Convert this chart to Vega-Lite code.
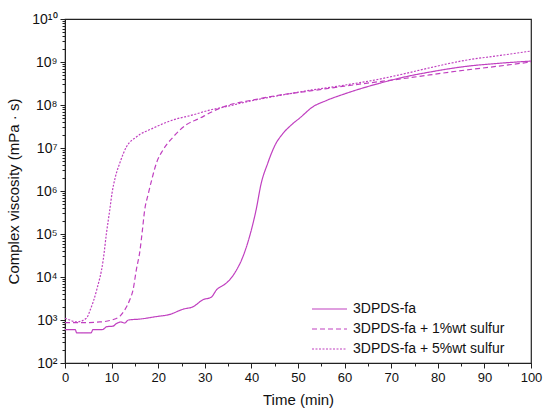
{
  "$schema": "https://vega.github.io/schema/vega-lite/v6.json",
  "width": 466,
  "height": 344,
  "autosize": "none",
  "padding": {"left": 65, "top": 19, "right": 19, "bottom": 56},
  "background": "white",
  "config": {
    "font": "Liberation Sans",
    "view": {"stroke": "#222", "strokeWidth": 1.2},
    "axis": {"grid": false, "domainColor": "#222", "tickColor": "#222", "labelColor": "#111", "titleColor": "#111", "labelFont": "Liberation Sans", "titleFont": "Liberation Sans", "titleFontWeight": "normal"}
  },
  "data": {
    "values": [
      {"t": 0, "v": 600, "s": "3DPDS-fa"},
      {"t": 2.2, "v": 600, "s": "3DPDS-fa"},
      {"t": 2.5, "v": 500, "s": "3DPDS-fa"},
      {"t": 5.6, "v": 500, "s": "3DPDS-fa"},
      {"t": 6, "v": 600, "s": "3DPDS-fa"},
      {"t": 8, "v": 600, "s": "3DPDS-fa"},
      {"t": 9, "v": 700, "s": "3DPDS-fa"},
      {"t": 10.3, "v": 720, "s": "3DPDS-fa"},
      {"t": 11, "v": 820, "s": "3DPDS-fa"},
      {"t": 12, "v": 900, "s": "3DPDS-fa"},
      {"t": 12.8, "v": 850, "s": "3DPDS-fa"},
      {"t": 13.6, "v": 1000, "s": "3DPDS-fa"},
      {"t": 16, "v": 1050, "s": "3DPDS-fa"},
      {"t": 19.6, "v": 1200, "s": "3DPDS-fa"},
      {"t": 22.5, "v": 1350, "s": "3DPDS-fa"},
      {"t": 25.3, "v": 1780, "s": "3DPDS-fa"},
      {"t": 27.5, "v": 2040, "s": "3DPDS-fa"},
      {"t": 29.6, "v": 2960, "s": "3DPDS-fa"},
      {"t": 31.4, "v": 3400, "s": "3DPDS-fa"},
      {"t": 32.5, "v": 5000, "s": "3DPDS-fa"},
      {"t": 34.3, "v": 6800, "s": "3DPDS-fa"},
      {"t": 35.5, "v": 9000, "s": "3DPDS-fa"},
      {"t": 36.8, "v": 14500, "s": "3DPDS-fa"},
      {"t": 38.2, "v": 30000, "s": "3DPDS-fa"},
      {"t": 39.6, "v": 87000, "s": "3DPDS-fa"},
      {"t": 41, "v": 360000, "s": "3DPDS-fa"},
      {"t": 42.1, "v": 1500000, "s": "3DPDS-fa"},
      {"t": 43.5, "v": 4400000, "s": "3DPDS-fa"},
      {"t": 44.4, "v": 8000000, "s": "3DPDS-fa"},
      {"t": 45.3, "v": 13000000, "s": "3DPDS-fa"},
      {"t": 46.5, "v": 20000000, "s": "3DPDS-fa"},
      {"t": 48.9, "v": 37000000, "s": "3DPDS-fa"},
      {"t": 50.3, "v": 49000000, "s": "3DPDS-fa"},
      {"t": 53.2, "v": 91000000, "s": "3DPDS-fa"},
      {"t": 56, "v": 126000000, "s": "3DPDS-fa"},
      {"t": 60.3, "v": 186000000, "s": "3DPDS-fa"},
      {"t": 64, "v": 250000000, "s": "3DPDS-fa"},
      {"t": 67.5, "v": 320000000, "s": "3DPDS-fa"},
      {"t": 71.7, "v": 420000000, "s": "3DPDS-fa"},
      {"t": 78.9, "v": 600000000, "s": "3DPDS-fa"},
      {"t": 86, "v": 790000000, "s": "3DPDS-fa"},
      {"t": 93, "v": 930000000, "s": "3DPDS-fa"},
      {"t": 100, "v": 1050000000, "s": "3DPDS-fa"},

      {"t": 0, "v": 870, "s": "3DPDS-fa + 1%wt sulfur"},
      {"t": 4, "v": 870, "s": "3DPDS-fa + 1%wt sulfur"},
      {"t": 7.5, "v": 900, "s": "3DPDS-fa + 1%wt sulfur"},
      {"t": 10, "v": 1000, "s": "3DPDS-fa + 1%wt sulfur"},
      {"t": 11.8, "v": 1230, "s": "3DPDS-fa + 1%wt sulfur"},
      {"t": 12.8, "v": 1700, "s": "3DPDS-fa + 1%wt sulfur"},
      {"t": 13.9, "v": 2950, "s": "3DPDS-fa + 1%wt sulfur"},
      {"t": 14.6, "v": 5000, "s": "3DPDS-fa + 1%wt sulfur"},
      {"t": 15.3, "v": 14500, "s": "3DPDS-fa + 1%wt sulfur"},
      {"t": 16.1, "v": 42000, "s": "3DPDS-fa + 1%wt sulfur"},
      {"t": 16.6, "v": 120000, "s": "3DPDS-fa + 1%wt sulfur"},
      {"t": 17.1, "v": 360000, "s": "3DPDS-fa + 1%wt sulfur"},
      {"t": 17.8, "v": 800000, "s": "3DPDS-fa + 1%wt sulfur"},
      {"t": 18.6, "v": 1800000, "s": "3DPDS-fa + 1%wt sulfur"},
      {"t": 19.6, "v": 4400000, "s": "3DPDS-fa + 1%wt sulfur"},
      {"t": 21, "v": 8900000, "s": "3DPDS-fa + 1%wt sulfur"},
      {"t": 23.2, "v": 18000000, "s": "3DPDS-fa + 1%wt sulfur"},
      {"t": 26.1, "v": 35000000, "s": "3DPDS-fa + 1%wt sulfur"},
      {"t": 28.9, "v": 49000000, "s": "3DPDS-fa + 1%wt sulfur"},
      {"t": 31, "v": 65000000, "s": "3DPDS-fa + 1%wt sulfur"},
      {"t": 33.9, "v": 90000000, "s": "3DPDS-fa + 1%wt sulfur"},
      {"t": 41, "v": 135000000, "s": "3DPDS-fa + 1%wt sulfur"},
      {"t": 46, "v": 170000000, "s": "3DPDS-fa + 1%wt sulfur"},
      {"t": 53, "v": 215000000, "s": "3DPDS-fa + 1%wt sulfur"},
      {"t": 60, "v": 275000000, "s": "3DPDS-fa + 1%wt sulfur"},
      {"t": 67.5, "v": 350000000, "s": "3DPDS-fa + 1%wt sulfur"},
      {"t": 71.7, "v": 400000000, "s": "3DPDS-fa + 1%wt sulfur"},
      {"t": 86, "v": 650000000, "s": "3DPDS-fa + 1%wt sulfur"},
      {"t": 93, "v": 800000000, "s": "3DPDS-fa + 1%wt sulfur"},
      {"t": 100, "v": 1000000000, "s": "3DPDS-fa + 1%wt sulfur"},

      {"t": 0, "v": 1100, "s": "3DPDS-fa + 5%wt sulfur"},
      {"t": 1, "v": 1000, "s": "3DPDS-fa + 5%wt sulfur"},
      {"t": 2.5, "v": 900, "s": "3DPDS-fa + 5%wt sulfur"},
      {"t": 4.6, "v": 1100, "s": "3DPDS-fa + 5%wt sulfur"},
      {"t": 5.4, "v": 1700, "s": "3DPDS-fa + 5%wt sulfur"},
      {"t": 6.8, "v": 5000, "s": "3DPDS-fa + 5%wt sulfur"},
      {"t": 8.2, "v": 25000, "s": "3DPDS-fa + 5%wt sulfur"},
      {"t": 8.9, "v": 105000, "s": "3DPDS-fa + 5%wt sulfur"},
      {"t": 9.6, "v": 360000, "s": "3DPDS-fa + 5%wt sulfur"},
      {"t": 10.1, "v": 900000, "s": "3DPDS-fa + 5%wt sulfur"},
      {"t": 10.8, "v": 2100000, "s": "3DPDS-fa + 5%wt sulfur"},
      {"t": 11.8, "v": 4600000, "s": "3DPDS-fa + 5%wt sulfur"},
      {"t": 13.2, "v": 10700000, "s": "3DPDS-fa + 5%wt sulfur"},
      {"t": 15.3, "v": 18000000, "s": "3DPDS-fa + 5%wt sulfur"},
      {"t": 18.9, "v": 29000000, "s": "3DPDS-fa + 5%wt sulfur"},
      {"t": 23.2, "v": 45000000, "s": "3DPDS-fa + 5%wt sulfur"},
      {"t": 27.5, "v": 59000000, "s": "3DPDS-fa + 5%wt sulfur"},
      {"t": 31, "v": 76000000, "s": "3DPDS-fa + 5%wt sulfur"},
      {"t": 34, "v": 89000000, "s": "3DPDS-fa + 5%wt sulfur"},
      {"t": 41, "v": 132000000, "s": "3DPDS-fa + 5%wt sulfur"},
      {"t": 46, "v": 166000000, "s": "3DPDS-fa + 5%wt sulfur"},
      {"t": 53, "v": 224000000, "s": "3DPDS-fa + 5%wt sulfur"},
      {"t": 60, "v": 290000000, "s": "3DPDS-fa + 5%wt sulfur"},
      {"t": 67.5, "v": 400000000, "s": "3DPDS-fa + 5%wt sulfur"},
      {"t": 71.7, "v": 500000000, "s": "3DPDS-fa + 5%wt sulfur"},
      {"t": 78.9, "v": 760000000, "s": "3DPDS-fa + 5%wt sulfur"},
      {"t": 86, "v": 1100000000, "s": "3DPDS-fa + 5%wt sulfur"},
      {"t": 93, "v": 1400000000, "s": "3DPDS-fa + 5%wt sulfur"},
      {"t": 100, "v": 1800000000, "s": "3DPDS-fa + 5%wt sulfur"}
    ]
  },
  "mark": {"type": "line", "strokeWidth": 1.2, "clip": true, "interpolate": "monotone"},
  "encoding": {
    "x": {
      "field": "t",
      "type": "quantitative",
      "title": "Time (min)",
      "scale": {"domain": [0, 100], "nice": false},
      "axis": {
        "values": [0, 5, 10, 15, 20, 25, 30, 35, 40, 45, 50, 55, 60, 65, 70, 75, 80, 85, 90, 95, 100],
        "labelExpr": "datum.value % 10 == 0 ? datum.label : ''",
        "tickSize": {"condition": {"test": "datum.value % 10 == 0", "value": 5}, "value": 3},
        "labelFontSize": 13,
        "labelPadding": 3,
        "titleFontSize": 15,
        "titlePadding": 8,
        "labelFlush": false
      }
    },
    "y": {
      "field": "v",
      "type": "quantitative",
      "title": "Complex viscosity (mPa · s)",
      "scale": {"type": "log", "domain": [100, 10000000000], "nice": false},
      "axis": {
        "values": [100, 200, 300, 400, 500, 600, 700, 800, 900, 1000, 2000, 3000, 4000, 5000, 6000, 7000, 8000, 9000, 10000, 20000, 30000, 40000, 50000, 60000, 70000, 80000, 90000, 100000, 200000, 300000, 400000, 500000, 600000, 700000, 800000, 900000, 1000000, 2000000, 3000000, 4000000, 5000000, 6000000, 7000000, 8000000, 9000000, 10000000, 20000000, 30000000, 40000000, 50000000, 60000000, 70000000, 80000000, 90000000, 100000000, 200000000, 300000000, 400000000, 500000000, 600000000, 700000000, 800000000, 900000000, 1000000000, 2000000000, 3000000000, 4000000000, 5000000000, 6000000000, 7000000000, 8000000000, 9000000000, 10000000000],
        "labelExpr": "abs(log(datum.value)/LN10 - round(log(datum.value)/LN10)) < 0.01 ? '10' + ['⁰','¹','²','³','⁴','⁵','⁶','⁷','⁸','⁹','¹⁰'][round(log(datum.value)/LN10)] : ''",
        "tickSize": {"condition": {"test": "abs(log(datum.value)/LN10 - round(log(datum.value)/LN10)) < 0.01", "value": 5}, "value": 3},
        "labelFontSize": 14,
        "labelPadding": 3,
        "labelFlush": false,
        "labelOverlap": false,
        "titleFontSize": 15,
        "titlePadding": 10
      }
    },
    "color": {
      "field": "s",
      "type": "nominal",
      "scale": {"domain": ["3DPDS-fa", "3DPDS-fa + 1%wt sulfur", "3DPDS-fa + 5%wt sulfur"], "range": ["#C040C0", "#C040C0", "#C040C0"]},
      "legend": {
        "title": null,
        "orient": "none",
        "legendX": 246,
        "legendY": 280,
        "symbolType": "stroke",
        "symbolSize": 1225,
        "symbolStrokeWidth": 1.2,
        "clipHeight": 20,
        "rowPadding": 0,
        "labelFontSize": 14,
        "labelColor": "#111",
        "labelLimit": 300,
        "labelOffset": 5
      }
    },
    "strokeDash": {
      "field": "s",
      "type": "nominal",
      "scale": {"domain": ["3DPDS-fa", "3DPDS-fa + 1%wt sulfur", "3DPDS-fa + 5%wt sulfur"], "range": [[1, 0], [5, 3], [2, 1.5]]},
      "legend": null
    }
  }
}
